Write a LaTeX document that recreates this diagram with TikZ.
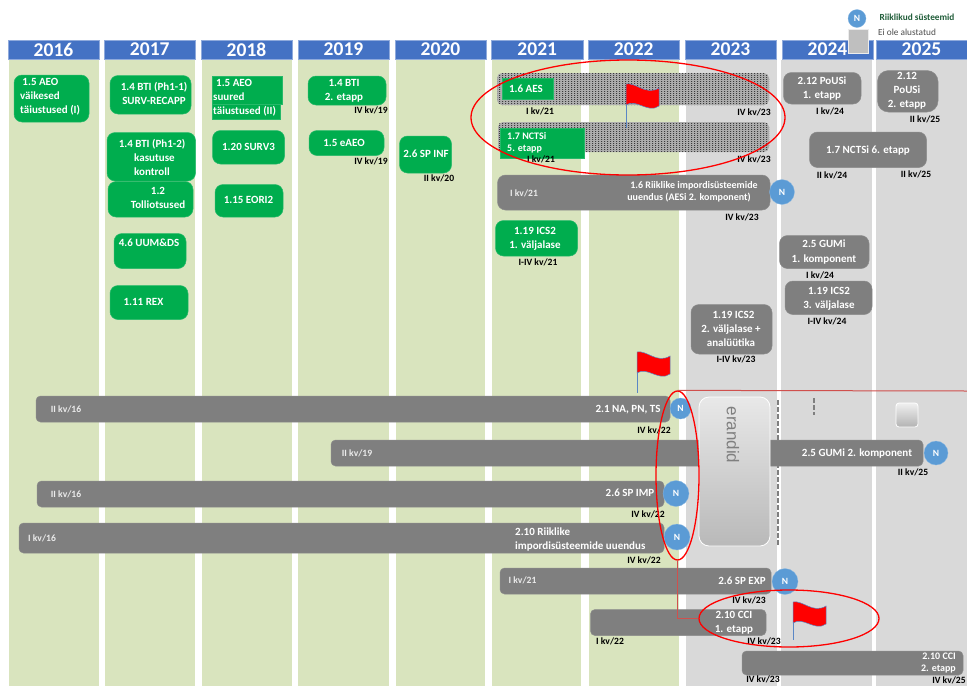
\documentclass[tikz,border=0pt]{standalone}
\usepackage{fontspec}
\setmainfont{Carlito}
\newfontfamily\arialf{Liberation Sans}
\usetikzlibrary{shapes.geometric,patterns}
\pgfdeclarepatternformonly{finegrid}{\pgfqpoint{0pt}{0pt}}{\pgfqpoint{2.6pt}{1.6pt}}{\pgfqpoint{2.6pt}{1.6pt}}{%
  \pgfpathrectangle{\pgfqpoint{0pt}{0pt}}{\pgfqpoint{1.2pt}{1pt}}\pgfusepath{fill}}
\definecolor{hdr}{HTML}{4472C4}
\definecolor{hdrl}{HTML}{8FAADC}
\definecolor{colg}{HTML}{D9E4BE}
\definecolor{cold}{HTML}{D9D9D9}
\definecolor{grn}{HTML}{00AD4E}
\definecolor{bar}{HTML}{7F7F7F}
\definecolor{nblue}{HTML}{5B9BD5}
\definecolor{pole}{HTML}{5B87C5}
\definecolor{darkg}{HTML}{1F5C38}
\definecolor{hatchbg}{HTML}{ADADAD}
\definecolor{hatchfg}{HTML}{3C3C3C}
\definecolor{linkred}{HTML}{D0504D}
\tikzset{
  colgreen/.style={fill=colg},
  colgray/.style={fill=cold},
  yearhd/.style={fill=hdr,draw=hdrl,line width=.6pt,text=white,font=\fontsize{19.5}{20}\selectfont\bfseries},
  green box/.style={fill=grn,draw=grn!85!white,line width=.5pt,rounded corners=8pt},
  green sharp/.style={fill=grn,draw=grn!85!white,line width=.5pt},
  gray box/.style={fill=bar,draw=bar!90!white,line width=.5pt,rounded corners=8pt},
  gray bar/.style={fill=bar,draw=bar!90!white,line width=.5pt,rounded corners=4.5pt},
  hatched/.style={preaction={fill=hatchbg},pattern=finegrid,pattern color=hatchfg,rounded corners=5pt},
  wt/.style={text=white,font=\fontsize{11}{14}\selectfont\bfseries,inner sep=0pt,align=center},
  wtl/.style={wt,align=left,anchor=west},
  wts/.style={wt,font=\fontsize{10}{12}\selectfont\bfseries},
  date/.style={text=black,font=\fontsize{9.6}{10}\selectfont\bfseries,inner sep=0pt},
  wdate/.style={text=white!92!black,font=\fontsize{9.6}{10}\selectfont\bfseries,inner sep=0pt},
  nat/.style={circle,fill=nblue,draw=nblue!70!white,line width=.3pt,text=white,font=\fontsize{9.5}{10}\selectfont\bfseries,inner sep=0pt},
  redring/.style={ellipse,draw=red,line width=1.3pt,inner sep=0pt},
  redlink/.style={draw=linkred,line width=1pt},
  flagcloth/.style={fill=red,draw=pole,line width=.5pt},
  flagpole/.style={draw=pole,line width=.8pt},
  exc/.style={rounded corners=10pt,top color=cold!60!white,bottom color=gray!55,draw=white,line width=.8pt},
  smallsq/.style={rounded corners=3pt,top color=cold!40!white,bottom color=gray!60,draw=white,line width=.8pt},
  dashline/.style={draw=bar,line width=1.8pt,dash pattern=on 4.5pt off 2.5pt},
}
% box from corners: style, name, x0, y0, x1, y1, text
\newcommand\bx[7][]{%
  \pgfmathsetmacro\bxcx{(#3+#5)/2}\pgfmathsetmacro\bxcy{(#4+#6)/2}%
  \pgfmathsetmacro\bxw{#5-#3}\pgfmathsetmacro\bxh{#6-#4}%
  \node[#1,inner sep=0pt,minimum width=\bxw pt,minimum height=\bxh pt] (#2) at (\bxcx,\bxcy) {#7};}
\newcommand\flagn[4]{% name, x, ytop, pole height
  \draw[flagpole] (#2,#3) -- (#2,#3+#4);
  \coordinate (#1) at (#2,#3);
  \filldraw[flagcloth] (#2,#3) .. controls (#2+10,#3-2) and (#2+20,#3+12) .. (#2+33,#3+4) -- (#2+33,#3+22)
     .. controls (#2+22,#3+30) and (#2+10,#3+14) .. (#2,#3+21) -- cycle;}
\begin{document}
\begin{tikzpicture}[x=1pt,y=-1pt]
\useasboundingbox (0,0) rectangle (967,686);
% columns
\bx[colgreen]{c16}{9}{60}{99}{686}{}
\bx[colgreen]{c17}{104.5}{60}{195}{686}{}
\bx[colgreen]{c18}{201.5}{60}{292}{686}{}
\bx[colgreen]{c19}{298}{60}{389}{686}{}
\bx[colgreen]{c20}{396}{60}{484.5}{686}{}
\bx[colgreen]{c21}{492}{60}{581}{686}{}
\bx[colgreen]{c22}{589}{60}{679}{686}{}
\bx[colgray]{c23}{686}{60}{777}{686}{}
\bx[colgray]{c24}{781}{60}{872}{686}{}
\bx[colgray]{c25}{876}{60}{967}{686}{}
% headers
\bx[yearhd]{y16}{8}{40}{99}{59}{2016}
\bx[yearhd]{y17}{104}{40}{195.5}{59}{2017}
\bx[yearhd]{y18}{201}{40}{292}{59}{2018}
\bx[yearhd]{y19}{298}{40}{389}{59}{2019}
\bx[yearhd]{y20}{395}{40}{486}{59}{2020}
\bx[yearhd]{y21}{491.5}{40}{583}{59}{2021}
\bx[yearhd]{y22}{588.5}{40}{679}{59}{2022}
\bx[yearhd]{y23}{685}{40}{776}{59}{2023}
\bx[yearhd]{y24}{782}{40}{873}{59}{2024}
\bx[yearhd]{y25}{876}{40}{967}{59}{2025}
% legend
\node[nat,minimum size=18pt] (legN) at (857,18.5) {N};
\node[text=darkg,font=\fontsize{9.3}{10}\selectfont\bfseries,inner sep=0pt] (legNt) at (917,17) {Riiklikud süsteemid};
\bx[fill=gray!50!white,draw=white!85!gray,line width=.6pt]{legS}{848.5}{29.5}{868}{53}{}
\node[text=black!70,font=\fontsize{9.3}{10}\selectfont,inner sep=0pt] (legSt) at (907,32.5) {Ei ole alustatud};
% connector lines behind bars
\draw[dashline] (778,400) -- (778,545) coordinate (dashend);
\draw[dashline] (814,398) -- (814,415) coordinate (dashendb);
% green boxes
\bx[green box]{g1}{14}{75}{89}{122}{}
\node[wtl] (g1t) at (20,97) {\hspace{2.3pt}1.5 AEO\\väikesed\\täiustused (I)};
\bx[green box]{g2}{110}{75.5}{191}{114}{}
\node[wt] (g2t) at (154,93) {1.4 BTI (Ph1-1)\\SURV-RECAPP};
\bx[green box]{g3}{107}{132.5}{195.5}{181}{}
\node[wt] (g3t) at (152,157) {1.4 BTI (Ph1-2)\\\hspace{5pt}kasutuse\\kontroll};
\bx[green box]{g4}{108}{181.5}{193}{217}{}
\node[wt] (g4t) at (158,197.5) {1.2\\Tolliotsused};
\bx[green box]{g5}{114}{233.5}{186}{268.5}{}
\node[wt] (g5t) at (149,242.5) {4.6 UUM\&DS};
\bx[green box]{g6}{110}{285.5}{188}{319.5}{}
\node[wt] (g6t) at (143.5,302) {1.11 REX};
\bx[green sharp]{g7}{212}{76.5}{282}{104}{}
\bx[green sharp]{g7b}{212}{104}{280.5}{119}{}
\node[wtl] (g7t) at (213,98) {\hspace{3pt}1.5 AEO\\suured\\täiustused (II)};
\bx[green box]{g8}{212.5}{130.5}{284.5}{164}{}
\node[wt] (g8t) at (248.5,147) {1.20 SURV3};
\bx[green box]{g9}{215}{184.5}{283}{217}{}
\node[wt] (g9t) at (248.5,199.5) {1.15 EORI2};
\bx[green box]{g10}{308}{76}{386}{105}{}
\node[wt] (g10t) at (344,91) {1.4 BTI\\2. etapp};
\bx[green box]{g11}{309}{130.5}{384}{155.5}{}
\node[wt] (g11t) at (344,143) {1.5 eAEO};
\bx[green box]{g12}{399.5}{136}{451.5}{173}{}
\node[wt] (g12t) at (426,153.5) {2.6 SP INF};
\node[date] (d1) at (371,110) {IV kv/19};
\node[date] (d2) at (371,161) {IV kv/19};
\node[date] (d3) at (439,178) {II kv/20};
% hatched bars
\bx[hatched]{h1}{497}{73}{769}{105}{}
\bx[green sharp]{g13}{502}{78}{553}{99}{}
\node[wt] (g13t) at (526,88.5) {1.6 AES};
\bx[hatched]{h2}{498}{122}{769}{152}{}
\bx[green sharp]{g14}{500.5}{128}{584.5}{158}{}
\node[wts,align=left,anchor=west] (g14t) at (507,143) {1.7 NCTSi\\5. etapp};
\node[date] (d4) at (540,111) {I kv/21};
\node[date] (d5) at (754,112) {IV kv/23};
\node[date] (d6) at (541,159) {I kv/21};
\node[date] (d7) at (754,159) {IV kv/23};
% 1.6 bar
\bx[gray box]{b1}{497.5}{175}{770}{210}{}
\node[wts] (b1t) at (689,192) {\hspace{10pt}1.6 Riiklike impordisüsteemide\\uuendus (AESi 2. komponent)};
\node[wdate] (b1d) at (524,193) {I kv/21};
\node[nat,minimum size=25pt] (n1) at (782,192) {N};
\node[date] (d8) at (742,217) {IV kv/23};
\bx[green box]{g15}{495.5}{220.5}{577.5}{256}{}
\node[wt] (g15t) at (535,238.5) {1.19 ICS2\\1. väljalase};
\node[date] (d9) at (538,262) {I-IV kv/21};
% gray boxes right
\bx[gray box]{b2}{783.5}{72.5}{861}{104}{}
\node[wt] (b2t) at (822,88.5) {2.12 PoUSi\\1. etapp};
\node[date] (d10) at (830,111) {I kv/24};
\bx[gray box,rounded corners=11pt]{b3}{877.5}{70.5}{938}{112}{}
\node[wt] (b3t) at (907,91) {2.12\\PoUSi\\2. etapp};
\node[date] (d11) at (925,119) {II kv/25};
\bx[gray box]{b4}{809.5}{132}{926.5}{167.5}{}
\node[wt] (b4t) at (868,150.5) {1.7 NCTSi 6. etapp};
\node[date] (d12) at (832,175) {II kv/24};
\node[date] (d13) at (916,174) {II kv/25};
\bx[gray box]{b5}{779.5}{235.5}{869}{268.5}{}
\node[wt] (b5t) at (824,252) {2.5 GUMi\\1. komponent};
\node[date] (d14) at (820,275) {I kv/24};
\bx[gray box]{b6}{785}{281}{872}{314.5}{}
\node[wt] (b6t) at (829,298.5) {1.19 ICS2\\3. väljalase};
\node[date] (d15) at (827,321) {I-IV kv/24};
\bx[gray box]{b7}{691}{304.5}{772}{354}{}
\node[wt] (b7t) at (731,329) {\hspace{5pt}1.19 ICS2\\2. väljalase +\\analüütika};
\node[date] (d16) at (736,359) {I-IV kv/23};
% long bars
\bx[gray bar]{l1}{36}{396}{670}{422}{}
\node[wt] (l1t) at (628,409.5) {2.1 NA, PN, TS};
\node[wdate] (l1d) at (66,409) {II kv/16};
\node[nat,minimum size=21pt] (n2) at (680.5,408.5) {N};
\node[date] (d17) at (654,430) {IV kv/22};
\bx[gray bar]{l2}{331}{440}{923}{466}{}
\node[wt] (l2t) at (857,453) {2.5 GUMi 2. komponent};
\node[wdate] (l2d) at (357,453) {II kv/19};
\node[nat,minimum size=24pt] (n3) at (936,453) {N};
\node[date] (d18) at (913,472) {II kv/25};
\bx[gray bar]{l3}{37}{481}{664}{507}{}
\node[wt] (l3t) at (630,493) {2.6 SP IMP};
\node[wdate] (l3d) at (66,494) {II kv/16};
\node[nat,minimum size=26pt] (n4) at (676,493.5) {N};
\node[date] (d19) at (648,514) {IV kv/22};
\bx[gray bar]{l4}{19}{523}{664}{553}{}
\node[wtl] (l4t) at (515,539) {2.10 Riiklike\\impordisüsteemide uuendus};
\node[wdate] (l4d) at (42,538) {I kv/16};
\node[nat,minimum size=26pt] (n5) at (677,537) {N};
\node[date] (d20) at (644,560) {IV kv/22};
\bx[gray bar]{l5}{500}{568}{771}{594}{}
\node[wt] (l5t) at (742,581) {2.6 SP EXP};
\node[wdate] (l5d) at (522.5,580) {I kv/21};
\node[nat,minimum size=26pt] (n6) at (785,581.5) {N};
\node[date] (d21) at (749,600) {IV kv/23};
\bx[gray bar]{l6}{590.5}{609.5}{766}{635.5}{}
\node[wt] (l6t) at (734,623) {2.10 CCI\\1. etapp};
\node[date] (d22) at (610,641) {I kv/22};
\node[date] (d23) at (764,641) {IV kv/23};
\bx[gray bar]{l7}{742}{651}{963}{675}{}
\node[wts,align=right,anchor=east] (l7t) at (956,663) {2.10 CCI\\2. etapp};
\node[date] (d24) at (763,679) {IV kv/23};
\node[date] (d25) at (949,680) {IV kv/25};
% exceptions block
\bx[exc]{ex}{699}{397}{770}{546}{}
\node[rotate=-90,text=bar,font=\arialf\fontsize{17}{18}\selectfont,inner sep=0pt] (ext) at (733,435) {erandid};
\bx[smallsq]{sq}{896}{403}{918}{427}{}
% red rings
\node[redring,minimum width=314pt,minimum height=115pt] (r1) at (628,117.5) {};
\node[redring,minimum width=43pt,minimum height=169pt] (r2) at (677.5,475.5) {};
\node[redring,minimum width=180pt,minimum height=57pt] (r3) at (789,618.5) {};
\coordinate (edge) at (967,391);
\draw[redlink] (r2.north) -- (edge);
\draw[redlink] (r2.south) -- (r2.south |- r3.west) -- (r3.west);
% flags
\flagn{f1}{626}{84}{44}
\flagn{f2}{637}{352}{41}
\flagn{f3}{793}{602}{38}
\end{tikzpicture}
\end{document}
